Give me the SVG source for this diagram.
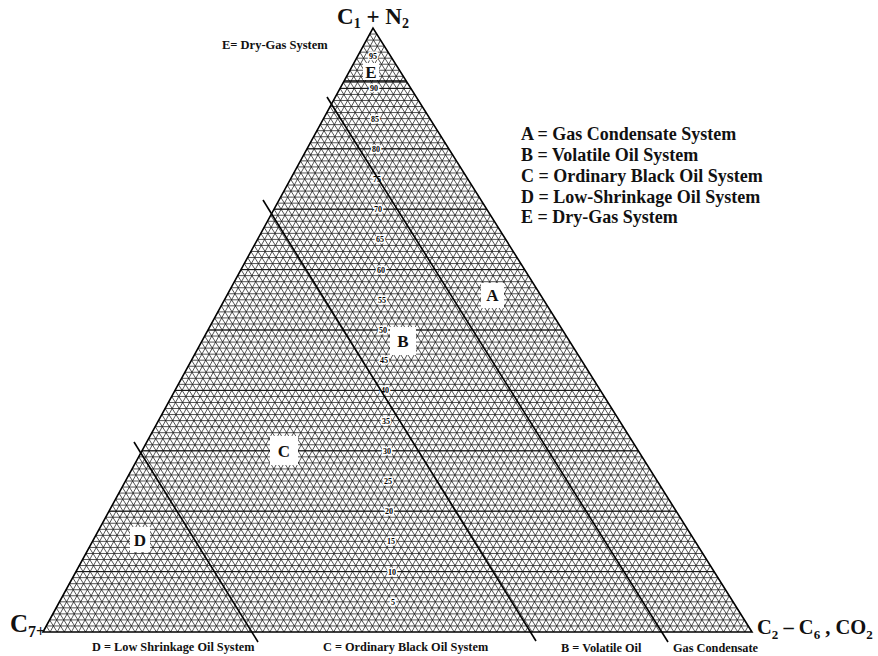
<svg xmlns="http://www.w3.org/2000/svg" width="878" height="656" viewBox="0 0 878 656">
<style>
.g{fill:none;stroke:#1a1a1a;stroke-width:0.75;vector-effect:non-scaling-stroke}
.gh{fill:none;stroke:#111;stroke-width:1;vector-effect:non-scaling-stroke}
.bd{fill:none;stroke:#000;stroke-width:1.6}
.t{font-family:"Liberation Serif","Times New Roman",serif;font-weight:bold;fill:#111}
.n{font-family:"Liberation Serif",serif;font-weight:bold;font-size:8px;fill:#000;stroke:#fff;stroke-width:3;paint-order:stroke;text-anchor:middle}
.box{fill:#fff}
.L{font-family:"Liberation Serif",serif;font-weight:bold;font-size:17px;fill:#111;text-anchor:middle}
</style>
<rect width="878" height="656" fill="#fff"/>
<g id="grid" transform="matrix(7.09 0 3.30 -6.04 43 632)">
<path class="g" d="M0 1H99M0 2H98M0 3H97M0 4H96M0 5H95M0 6H94M0 7H93M0 8H92M0 9H91M0 10H90M0 11H89M0 12H88M0 13H87M0 14H86M0 15H85M0 16H84M0 17H83M0 18H82M0 19H81M0 20H80M0 21H79M0 22H78M0 23H77M0 24H76M0 25H75M0 26H74M0 27H73M0 28H72M0 29H71M0 30H70M0 31H69M0 32H68M0 33H67M0 34H66M0 35H65M0 36H64M0 37H63M0 38H62M0 39H61M0 40H60M0 41H59M0 42H58M0 43H57M0 44H56M0 45H55M0 46H54M0 47H53M0 48H52M0 49H51M0 50H50M0 51H49M0 52H48M0 53H47M0 54H46M0 55H45M0 56H44M0 57H43M0 58H42M0 59H41M0 60H40M0 61H39M0 62H38M0 63H37M0 64H36M0 65H35M0 66H34M0 67H33M0 68H32M0 69H31M0 70H30M0 71H29M0 72H28M0 73H27M0 74H26M0 75H25M0 76H24M0 77H23M0 78H22M0 79H21M0 80H20M0 81H19M0 82H18M0 83H17M0 84H16M0 85H15M0 86H14M0 87H13M0 88H12M0 89H11M0 90H10M0 91H9M0 92H8M0 93H7M0 94H6M0 95H5M0 96H4M0 97H3M0 98H2M0 99H1"/>
<path class="g" d="M1 0V99M2 0V98M3 0V97M4 0V96M5 0V95M6 0V94M7 0V93M8 0V92M9 0V91M10 0V90M11 0V89M12 0V88M13 0V87M14 0V86M15 0V85M16 0V84M17 0V83M18 0V82M19 0V81M20 0V80M21 0V79M22 0V78M23 0V77M24 0V76M25 0V75M26 0V74M27 0V73M28 0V72M29 0V71M30 0V70M31 0V69M32 0V68M33 0V67M34 0V66M35 0V65M36 0V64M37 0V63M38 0V62M39 0V61M40 0V60M41 0V59M42 0V58M43 0V57M44 0V56M45 0V55M46 0V54M47 0V53M48 0V52M49 0V51M50 0V50M51 0V49M52 0V48M53 0V47M54 0V46M55 0V45M56 0V44M57 0V43M58 0V42M59 0V41M60 0V40M61 0V39M62 0V38M63 0V37M64 0V36M65 0V35M66 0V34M67 0V33M68 0V32M69 0V31M70 0V30M71 0V29M72 0V28M73 0V27M74 0V26M75 0V25M76 0V24M77 0V23M78 0V22M79 0V21M80 0V20M81 0V19M82 0V18M83 0V17M84 0V16M85 0V15M86 0V14M87 0V13M88 0V12M89 0V11M90 0V10M91 0V9M92 0V8M93 0V7M94 0V6M95 0V5M96 0V4M97 0V3M98 0V2M99 0V1"/>
<path class="g" d="M1 0L0 1M2 0L0 2M3 0L0 3M4 0L0 4M5 0L0 5M6 0L0 6M7 0L0 7M8 0L0 8M9 0L0 9M10 0L0 10M11 0L0 11M12 0L0 12M13 0L0 13M14 0L0 14M15 0L0 15M16 0L0 16M17 0L0 17M18 0L0 18M19 0L0 19M20 0L0 20M21 0L0 21M22 0L0 22M23 0L0 23M24 0L0 24M25 0L0 25M26 0L0 26M27 0L0 27M28 0L0 28M29 0L0 29M30 0L0 30M31 0L0 31M32 0L0 32M33 0L0 33M34 0L0 34M35 0L0 35M36 0L0 36M37 0L0 37M38 0L0 38M39 0L0 39M40 0L0 40M41 0L0 41M42 0L0 42M43 0L0 43M44 0L0 44M45 0L0 45M46 0L0 46M47 0L0 47M48 0L0 48M49 0L0 49M50 0L0 50M51 0L0 51M52 0L0 52M53 0L0 53M54 0L0 54M55 0L0 55M56 0L0 56M57 0L0 57M58 0L0 58M59 0L0 59M60 0L0 60M61 0L0 61M62 0L0 62M63 0L0 63M64 0L0 64M65 0L0 65M66 0L0 66M67 0L0 67M68 0L0 68M69 0L0 69M70 0L0 70M71 0L0 71M72 0L0 72M73 0L0 73M74 0L0 74M75 0L0 75M76 0L0 76M77 0L0 77M78 0L0 78M79 0L0 79M80 0L0 80M81 0L0 81M82 0L0 82M83 0L0 83M84 0L0 84M85 0L0 85M86 0L0 86M87 0L0 87M88 0L0 88M89 0L0 89M90 0L0 90M91 0L0 91M92 0L0 92M93 0L0 93M94 0L0 94M95 0L0 95M96 0L0 96M97 0L0 97M98 0L0 98M99 0L0 99"/>
<path class="gh" d="M0 10H90M0 20H80M0 30H70M0 40H60M0 50H50M0 60H40M0 70H30M0 80H20M0 90H10"/>
</g>
<path id="outline" class="bd" d="M43 632L373 28L752 632Z" stroke-width="1.2"/>
<g id="scale">
<text class="n" x="373" y="59">95</text>
<text class="n" x="374" y="91">90</text>
<text class="n" x="375" y="122">85</text>
<text class="n" x="376" y="152">80</text>
<text class="n" x="377" y="182">75</text>
<text class="n" x="378" y="212">70</text>
<text class="n" x="380" y="242">65</text>
<text class="n" x="381" y="273">60</text>
<text class="n" x="382" y="303">55</text>
<text class="n" x="383" y="333">50</text>
<text class="n" x="384" y="363">45</text>
<text class="n" x="385" y="393">40</text>
<text class="n" x="386" y="424">35</text>
<text class="n" x="387" y="454">30</text>
<text class="n" x="388" y="484">25</text>
<text class="n" x="389" y="514">20</text>
<text class="n" x="391" y="544">15</text>
<text class="n" x="392" y="575">10</text>
<text class="n" x="393" y="605">5</text>
</g>
<g id="connectors">
<path id="line-E" class="bd" d="M344 81H406"/>
<path id="line-A" class="bd" d="M327 97L668 642"/>
<path id="line-B" class="bd" d="M263 200L536 641"/>
<path id="line-C" class="bd" d="M134 442L258 642"/>
</g>
<g id="node-E"><rect class="box" x="363" y="63" width="16" height="17"/><text class="L" x="371" y="78" font-size="15">E</text></g>
<g id="node-A"><rect class="box" x="481" y="283" width="23" height="25"/><text class="L" x="492.5" y="301">A</text></g>
<g id="node-B"><rect class="box" x="390" y="327" width="26" height="28"/><text class="L" x="403" y="347">B</text></g>
<g id="node-C"><rect class="box" x="270" y="436" width="28" height="29"/><text class="L" x="284" y="457">C</text></g>
<g id="node-D"><rect class="box" x="130" y="527" width="20" height="25"/><text class="L" x="140" y="546">D</text></g>
<g id="axis-labels">
<text class="t" x="373" y="24" font-size="23" text-anchor="middle">C<tspan font-size="14" dy="4">1</tspan><tspan dy="-4"> + N</tspan><tspan font-size="14" dy="4">2</tspan></text>
<text class="t" x="10" y="632" font-size="25">C<tspan font-size="16" dy="5">7+</tspan></text>
<text class="t" x="757" y="634" font-size="20.5">C<tspan font-size="13" dy="5">2</tspan><tspan dy="-5"> – C</tspan><tspan font-size="13" dy="5">6</tspan><tspan dy="-5"> , CO</tspan><tspan font-size="13" dy="5">2</tspan></text>
</g>
<g id="legend" class="t" font-size="18">
<text x="521" y="140">A = Gas Condensate System</text>
<text x="521" y="161">B = Volatile Oil System</text>
<text x="521" y="182">C = Ordinary Black Oil System</text>
<text x="521" y="203">D = Low-Shrinkage Oil System</text>
<text x="521" y="223">E = Dry-Gas System</text>
</g>
<g id="region-labels" class="t" font-size="12.3">
<text x="222" y="49" font-size="12.5">E= Dry-Gas System</text>
<text x="92" y="651">D = Low Shrinkage Oil System</text>
<text x="323" y="651">C = Ordinary Black Oil System</text>
<text x="561" y="652">B = Volatile Oil</text>
<text x="673" y="652">Gas Condensate</text>
</g>
</svg>
